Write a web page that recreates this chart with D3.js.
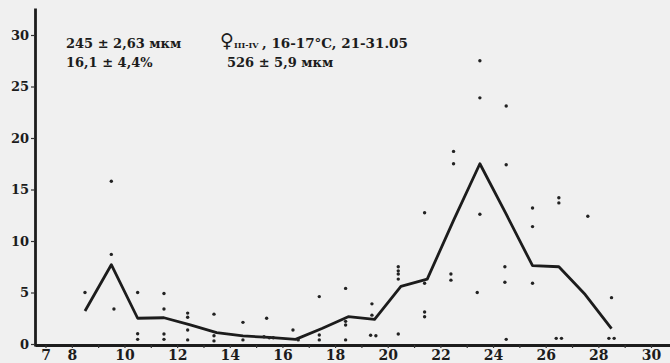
<!DOCTYPE html>
<html>
<head>
<meta charset="utf-8">
<script src="https://cdn.jsdelivr.net/npm/d3@7"></script>
<style>
  body { margin: 0; background: #f0f0f0; }
  svg { display: block; }
  text { font-family: "DejaVu Serif", serif; font-weight: bold; fill: #1c1c1c; }
</style>
</head>
<body>
<div id="graph-container"></div>
<script>
// size classes (class midpoints) and mean share, %
const classes = [8.5, 9.5, 10.5, 11.5, 12.5, 13.5, 14.5, 15.5, 16.5, 17.5, 18.5,
                 19.5, 20.5, 21.5, 22.5, 23.5, 24.5, 25.5, 26.5, 27.5, 28.5];
const meanPct = [3.2, 7.7, 2.5, 2.55, 1.85, 1.1, 0.78, 0.65, 0.45, 1.5, 2.65,
                 2.4, 5.6, 6.3, 12.0, 17.5, 12.6, 7.6, 7.5, 4.8, 1.5];

// single samples (scattered dots)
const sampleX = [8.5,
  9.5, 9.5, 9.6,
  10.5, 10.5, 10.5,
  11.5, 11.5, 11.5, 11.5,
  12.4, 12.4, 12.4, 12.4,
  13.4, 13.4, 13.4,
  14.5, 14.5,
  15.4, 15.3, 15.5, 15.65,
  16.4, 16.6,
  17.4, 17.4, 17.4,
  18.4, 18.4, 18.4, 18.4,
  19.4, 19.4, 19.35, 19.55,
  20.4, 20.4, 20.4, 20.4, 20.4,
  21.4, 21.4, 21.4, 21.4,
  22.5, 22.5, 22.4, 22.4,
  23.5, 23.5, 23.5, 23.4,
  24.5, 24.5, 24.45, 24.45, 24.5,
  25.5, 25.5, 25.5,
  26.5, 26.5, 26.4, 26.6,
  27.6,
  28.5, 28.4, 28.6];
const sampleY = [5.0,
  15.8, 8.7, 3.4,
  5.0, 1.0, 0.45,
  4.9, 3.4, 0.97, 0.45,
  3.0, 2.6, 1.36, 0.4,
  2.9, 0.8, 0.3,
  2.1, 0.4,
  2.5, 0.7, 0.6, 0.6,
  1.36, 0.4,
  4.6, 0.87, 0.4,
  5.4, 2.2, 1.85, 0.4,
  3.9, 2.8, 0.85, 0.8,
  7.5, 7.1, 6.8, 6.3, 0.97,
  12.75, 5.9, 3.1, 2.65,
  18.7, 17.5, 6.8, 6.2,
  27.5, 23.9, 12.6, 5.0,
  23.1, 17.4, 7.5, 6.0, 0.45,
  13.2, 11.4, 5.9,
  14.2, 13.7, 0.55, 0.55,
  12.4,
  4.5, 0.55, 0.55];

const xTicks = d3.range(7, 31);
const xLabels = [7, 8, 10, 12, 14, 16, 18, 20, 22, 24, 26, 28, 30];
const yTicks = [0, 5, 10, 15, 20, 25, 30];

const noteLeft = ["245 ± 2,63 мкм", "16,1 ± 4,4%"];
const noteSex = "♀";
const noteStage = "III-IV";
const noteRight = [", 16-17°C, 21-31.05", "526 ± 5,9 мкм"];

const width = 670, height = 363;

const x = d3.scaleLinear().domain([7, 30]).range([45.5, 651]);
const y = d3.scaleLinear().domain([0, 30]).range([344, 35]);

const svg = d3.select('#graph-container')
  .append('svg')
  .attr('width', width)
  .attr('height', height);

svg.append('rect')
  .attr('width', width)
  .attr('height', height)
  .attr('fill', '#f0f0f0');

// axes: same mapping, domain stretched to the drawn axis lines
const xAxisScale = x.copy().domain([x.invert(35), x.invert(670)]).range([35, 670]);
const yAxisScale = y.copy().domain([y.invert(346), y.invert(8)]).range([346, 8]);

const gx = svg.append('g')
  .attr('transform', 'translate(0,345)')
  .call(d3.axisBottom(xAxisScale)
    .tickValues(xTicks)
    .tickSize(3)
    .tickSizeOuter(0)
    .tickPadding(2)
    .tickFormat(d => xLabels.includes(d) ? d : ''));
gx.select('.domain').attr('stroke', '#1c1c1c').attr('stroke-width', 2.8);
gx.selectAll('.tick line').attr('stroke', '#333').attr('stroke-width', 1.2);
gx.selectAll('.tick text').style('font-size', '14px');

const gy = svg.append('g')
  .attr('transform', 'translate(35,0)')
  .call(d3.axisLeft(yAxisScale)
    .tickValues(yTicks)
    .tickSize(4)
    .tickSizeOuter(0)
    .tickPadding(2));
gy.select('.domain').attr('stroke', '#1c1c1c').attr('stroke-width', 2.8);
gy.selectAll('.tick line').attr('stroke', '#333').attr('stroke-width', 1.2);
gy.selectAll('.tick text').style('font-size', '13px');

// mean line
const line = d3.line()
  .x(d => x(d[0]))
  .y(d => y(d[1]));

svg.append('path')
  .attr('d', line(classes.map((c, i) => [c, meanPct[i]])))
  .attr('fill', 'none')
  .attr('stroke', '#1c1c1c')
  .attr('stroke-width', 2.8)
  .attr('stroke-linejoin', 'round');

// individual samples
svg.append('g')
  .selectAll('circle')
  .data(sampleX.map((v, i) => [v, sampleY[i]]))
  .join('circle')
  .attr('cx', d => x(d[0]))
  .attr('cy', d => y(d[1]))
  .attr('r', 1.7)
  .attr('fill', '#222');

// notes
svg.selectAll('text.noteL')
  .data(noteLeft)
  .join('text')
  .attr('class', 'noteL')
  .attr('x', 66)
  .attr('y', (d, i) => 48 + i * 19)
  .style('font-size', '13px')
  .text(d => d);

svg.append('text')
  .attr('x', 220)
  .attr('y', 47)
  .style('font-family', '"DejaVu Sans", sans-serif')
  .style('font-size', '19px')
  .text(noteSex);

svg.append('text')
  .attr('x', 234)
  .attr('y', 48)
  .style('font-size', '8px')
  .text(noteStage);

svg.append('text')
  .attr('x', 262)
  .attr('y', 48)
  .style('font-size', '13.5px')
  .text(noteRight[0]);

svg.append('text')
  .attr('x', 227)
  .attr('y', 67)
  .style('font-size', '13px')
  .text(noteRight[1]);
</script>
</body>
</html>
